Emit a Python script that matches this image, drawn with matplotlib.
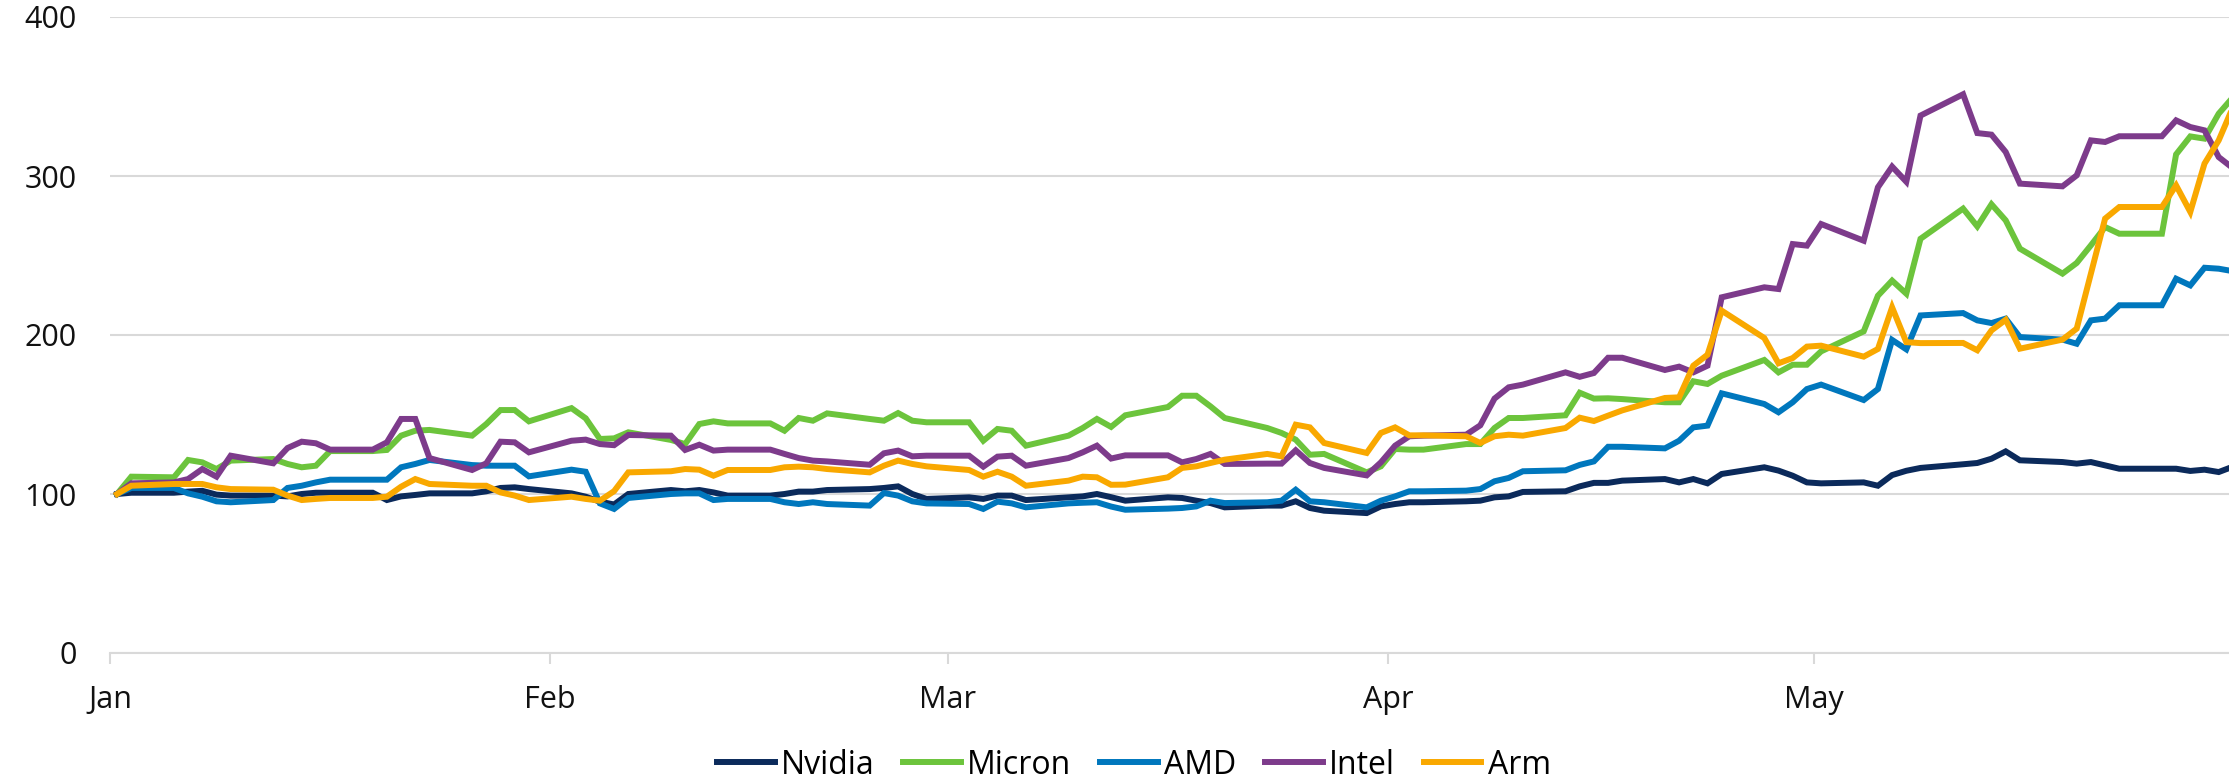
import matplotlib
matplotlib.use("Agg")
import matplotlib.pyplot as plt
import matplotlib.dates as mdates
import numpy as np
import pandas as pd

# trading days (weekdays, holidays carried forward), index = 100 on Jan 1
dates = pd.bdate_range("2026-01-01", "2026-06-01")

nvidia = [
    # Jan
    100, 100.8, 100.8, 101.5, 102, 99.6, 99, 99, 98.5, 100, 100.8, 100.8, 100.8, 96.2, 98.5, 99.4, 100.4, 100.4, 101.7, 103.8, 104.2, 103.1,
    # Feb
    100.4, 98.3, 95.2, 93.4, 100, 102.5, 101.7, 102.5, 101, 99, 99, 100, 101.5, 101.5, 102.5, 103.1, 103.8, 104.8, 100, 96.9,
    # Mar
    97.9, 96.9, 99, 99, 96.2, 97.9, 98.5, 100, 98, 95.8, 97.9, 97.5, 95.8, 94.3, 91.6, 92.7, 92.7, 95.4, 91.2, 89.5, 88, 92.2,
    # Apr
    93.7, 94.8, 94.8, 95.4, 95.8, 97.9, 98.5, 101.3, 101.7, 104.8, 107, 107, 108.4, 109.4, 107.3, 109.4, 106.7, 112.6, 116.8, 114.7, 111.5, 107.3,
    # May
    106.7, 107.3, 105.2, 111.9, 114.6, 116.4, 118.7, 119.5, 122.2, 126.8, 121.2, 120.1, 119.1, 120.1, 118, 115.9, 115.9, 115.9, 114.5, 115.3, 113.8,
    # Jun
    124,
]

micron = [
    100, 110.9, 110.5, 121.4, 119.9, 115.7, 121, 122, 118.9, 116.8, 117.8, 127, 127, 127.7, 136.7, 139.8, 140.3, 136.7, 144, 152.8, 152.8, 145.7,
    154, 147.6, 134.6, 135, 138.8, 134, 131.4, 144, 145.7, 144.4, 144.4, 139.8, 147.8, 146.1, 150.7, 147.2, 146.1, 150.9, 146.1, 145.1,
    145.1, 133.5, 140.9, 139.8, 130.4, 136.7, 141.5, 147.2, 142.2, 149.5, 154.7, 161.8, 161.8, 155.1, 147.8, 141.5, 138.4, 134.2, 124.7, 125.2, 113.6, 117.4,
    128.3, 127.9, 127.9, 131.4, 131.4, 141.5, 147.8, 147.8, 149.5, 163.7, 160, 160.2, 159.7, 157.7, 157.7, 170.9, 169.2, 174.4, 184.3, 176.5, 181.3, 181.3,
    189.7, 202.3, 224.7, 234.2, 226, 260.5, 279.5, 268.3, 282.2, 272.1, 254.3, 238.6, 245.3, 256.4, 267.9, 263.7, 263.7, 313.6, 324.9, 323.5, 339.2,
    370,
]

amd = [
    100, 103.8, 103.8, 100.4, 98.3, 95.4, 94.8, 96.2, 103.8, 105.2, 107.3, 109, 109, 109, 116.8, 118.9, 121.4, 118.2, 117.8, 117.8, 117.8, 111.1,
    115.3, 114, 94.1, 90.6, 97.5, 100, 100.4, 100.4, 96.2, 96.9, 96.9, 94.8, 93.7, 94.8, 93.7, 92.7, 100.6, 99, 95.4, 94.1,
    93.7, 90.6, 95.2, 94.1, 91.6, 94.1, 94.5, 94.8, 92.1, 90.1, 90.8, 91.2, 92.2, 95.8, 94.3, 94.8, 95.8, 102.7, 95.4, 94.8, 91.6, 95.8,
    98.5, 101.7, 101.7, 102.1, 103.1, 108, 110.1, 114.3, 114.9, 118.3, 120.5, 129.7, 129.7, 128.7, 133.5, 141.9, 143, 163.3, 156.6, 151.4, 157.7, 166,
    168.8, 159.1, 166, 196.9, 191, 212.3, 213.8, 209.2, 207.5, 210.3, 198.7, 197.1, 194.5, 209.2, 210.3, 218.7, 218.7, 235.4, 231.2, 242.3, 241.7,
    237,
]

intel = [
    100, 106.7, 107.3, 109.4, 115.7, 110.9, 124.1, 119.3, 128.9, 132.9, 131.9, 127.9, 127.9, 132.5, 147.2, 147.2, 122.6, 115.1, 119.3, 132.9, 132.5, 126.2,
    133.5, 134.2, 131.4, 130.7, 137.1, 136.7, 127.7, 131, 127.3, 127.9, 127.9, 125.2, 122.6, 121, 120.5, 118.4, 125.6, 127.3, 123.7, 124.1,
    124.1, 117.2, 123.5, 124.1, 117.8, 122.6, 126.2, 130.4, 122.3, 124.3, 124.3, 119.9, 122, 125.2, 118.9, 119.1, 119.1, 127.5, 119.5, 116.4, 111.7, 119.9,
    130.4, 136.3, 136.7, 137.3, 143.2, 160, 167.1, 168.8, 176.5, 173.7, 176.1, 185.7, 185.7, 178, 180.1, 176.5, 180.7, 223.7, 230, 228.9, 257.2, 256.2,
    269.8, 259.3, 292.9, 305.9, 296.4, 338, 351.4, 327, 326, 315.1, 295.2, 293.5, 300.4, 322.4, 321.4, 325, 325, 335, 330.8, 328.7, 311.9,
    291,
]

arm = [
    100, 105.2, 106.3, 106.3, 106.3, 104.2, 103.1, 102.7, 99, 96.2, 96.9, 97.5, 97.5, 98.3, 104.6, 109.4, 106.3, 105.2, 105.2, 101, 99, 96.2,
    98.3, 96.9, 95.8, 101.8, 113.6, 114.3, 115.7, 115.3, 111.5, 115.1, 115.1, 116.8, 117.2, 116.8, 115.7, 113.6, 117.8, 121, 118.9, 117.4,
    115.1, 110.9, 114, 110.9, 105.2, 108.4, 110.9, 110.5, 105.8, 105.9, 110.5, 116.4, 117.4, 119.5, 121.6, 125.2, 123.7, 143.6, 141.9, 132.1, 125.8, 138.4,
    141.9, 136.9, 136.9, 136.3, 132.1, 136.3, 137.3, 136.7, 141.5, 148, 145.9, 149.3, 152.6, 160.4, 160.8, 180.7, 187.6, 215.3, 198.1, 182.2, 185.5, 192.7,
    193.3, 186.4, 191.2, 217.4, 195.5, 194.9, 195, 190.4, 202.9, 209.6, 191.4, 197.1, 204, 238.6, 273.2, 280.5, 280.5, 294.1, 277.4, 307.8, 322.4,
    385,
]

names = ["Nvidia", "Micron", "AMD", "Intel", "Arm"]
series = [nvidia, micron, amd, intel, arm]
colors = ["#0b2a5b", "#6cc43c", "#0077bd", "#7d3b8b", "#f9a800"]

plt.rcParams["font.family"] = ["Open Sans", "DejaVu Sans"]

fig = plt.figure(figsize=(22.29, 7.82), dpi=100)
ax = fig.add_axes([110 / 2229, 1 - 653 / 782, 1 - 110 / 2229, (653 - 17) / 782])

# points sit in the middle of each day (date axis, between tick marks)
x = dates + pd.Timedelta(hours=12)
for name, vals, c in zip(names, series, colors):
    ax.plot(x, vals, color=c, lw=4.3, label=name, solid_joinstyle="miter")

start = pd.Timestamp("2026-01-01")
ax.set_xlim(start, start + pd.Timedelta(days=(2229 - 110) / 14.2))
ax.set_ylim(0, 400)
ax.set_yticks([0, 100, 200, 300, 400])

ax.xaxis.set_major_locator(mdates.MonthLocator())
ax.xaxis.set_major_formatter(mdates.DateFormatter("%b"))

ax.grid(axis="y", color="#d9d9d9", lw=1.5)
ax.set_axisbelow(True)
for s in ["top", "right", "left"]:
    ax.spines[s].set_visible(False)
ax.spines["bottom"].set_color("#d9d9d9")
ax.spines["bottom"].set_linewidth(1.5)

ax.tick_params(axis="y", length=0, pad=24, labelsize=22, labelcolor="#111111")
ax.tick_params(axis="x", length=8, width=1.5, color="#d9d9d9", pad=15, labelsize=22, labelcolor="#111111")

fig.legend(loc="center", bbox_to_anchor=(1134 / 2229, 17 / 782), ncol=5, frameon=False,
           fontsize=23, handlelength=1.8, handletextpad=0.2, columnspacing=0.9)

fig.savefig("out.png", dpi=100)
